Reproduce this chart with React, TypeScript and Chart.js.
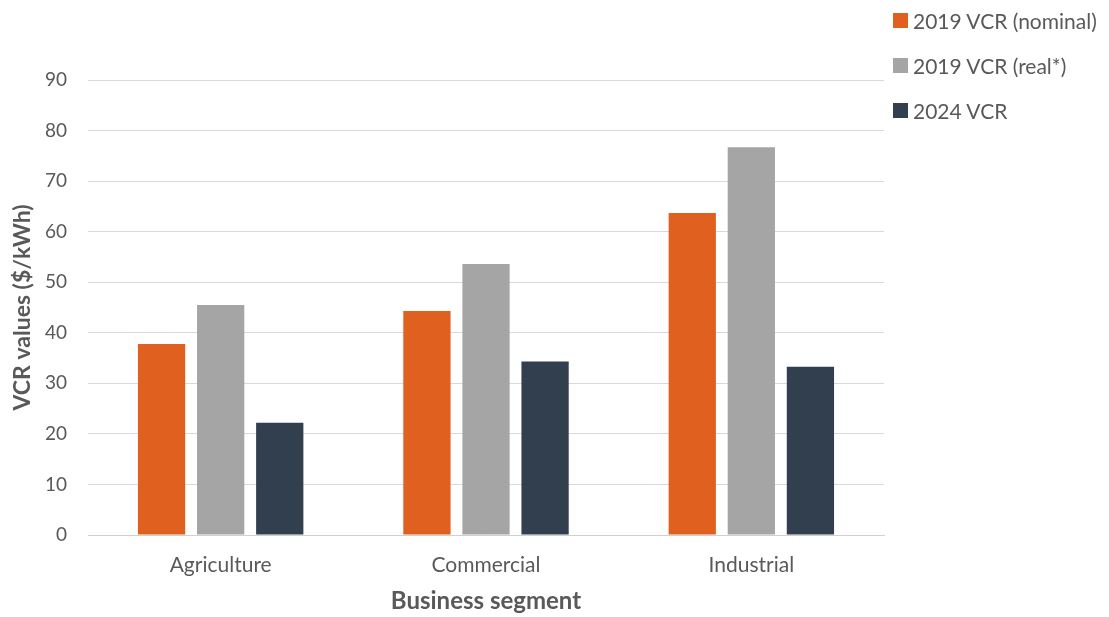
import React, { useEffect, useRef } from "react";
import { Chart, registerables } from "chart.js";

Chart.register(...registerables);

const categories = ["Agriculture", "Commercial", "Industrial"];
const nominal2019 = [37.8, 44.3, 63.7];
const real2019 = [45.5, 53.6, 76.7];
const vcr2024 = [22.2, 34.3, 33.3];
const seriesLabels = ["2019 VCR (nominal)", "2019 VCR (real*)", "2024 VCR"];
const seriesColors = ["#E0601F", "#A5A5A5", "#323F4F"];
const yMin = 0;
const yMax = 90;
const yStep = 10;
const xTitle = "Business segment";
const yTitle = "VCR values ($/kWh)";

const FONT = "Lato, 'Open Sans', sans-serif";
const TEXT = "#595959";

export default function App() {
  const ref = useRef<HTMLCanvasElement | null>(null);

  useEffect(() => {
    if (!ref.current) return;
    const seriesValues = [nominal2019, real2019, vcr2024];
    const chart = new Chart(ref.current, {
      type: "bar",
      data: {
        labels: categories,
        datasets: seriesLabels.map((label, i) => ({
          label,
          data: seriesValues[i],
          backgroundColor: seriesColors[i],
          borderWidth: 0,
          categoryPercentage: 0.668,
          barPercentage: 0.8,
        })),
      },
      options: {
        animation: false,
        responsive: false,
        maintainAspectRatio: false,
        layout: { padding: { top: 80, right: 225, bottom: 0, left: 0 } },
        plugins: {
          legend: { display: false },
          tooltip: { enabled: false },
        },
        scales: {
          x: {
            grid: { display: false, drawTicks: false },
            border: { display: true, color: "#D0D0D0", width: 1 },
            ticks: {
              color: TEXT,
              font: { family: FONT, size: 21 },
              padding: 18,
            },
            title: {
              display: true,
              text: xTitle,
              color: TEXT,
              font: { family: FONT, size: 24, weight: "bold" },
              padding: { top: 0, bottom: 1 },
            },
            afterFit: (scale: any) => {
              scale.height = 82;
            },
          },
          y: {
            min: yMin,
            max: yMax,
            grid: { color: "#D9D9D9", lineWidth: 1, drawTicks: false },
            border: { display: false },
            ticks: {
              stepSize: yStep,
              color: TEXT,
              font: { family: FONT, size: 19 },
              padding: 21,
            },
            title: {
              display: true,
              text: yTitle,
              color: TEXT,
              font: { family: FONT, size: 23, weight: "bold" },
              padding: { top: 9, bottom: 0 },
            },
            afterFit: (scale: any) => {
              scale.width = 88;
            },
          },
        },
      },
    });
    return () => chart.destroy();
  }, []);

  const legendTops = [20, 65, 110];

  return (
    <div style={{ position: "fixed", left: 0, top: 0, width: 1109, height: 617, background: "#fff" }}>
      <canvas ref={ref} width={1109} height={617} style={{ display: "block" }} />
      {seriesLabels.map((label, i) => (
        <div
          key={label}
          style={{
            position: "absolute",
            left: 893,
            top: legendTops[i] - 14,
            height: 28,
            display: "flex",
            alignItems: "center",
            fontFamily: FONT,
            fontSize: 21,
            color: TEXT,
            whiteSpace: "nowrap",
          }}
        >
          <span style={{ display: "inline-block", width: 15, height: 15, background: seriesColors[i], marginRight: 5 }} />
          <span>{label}</span>
        </div>
      ))}
    </div>
  );
}
